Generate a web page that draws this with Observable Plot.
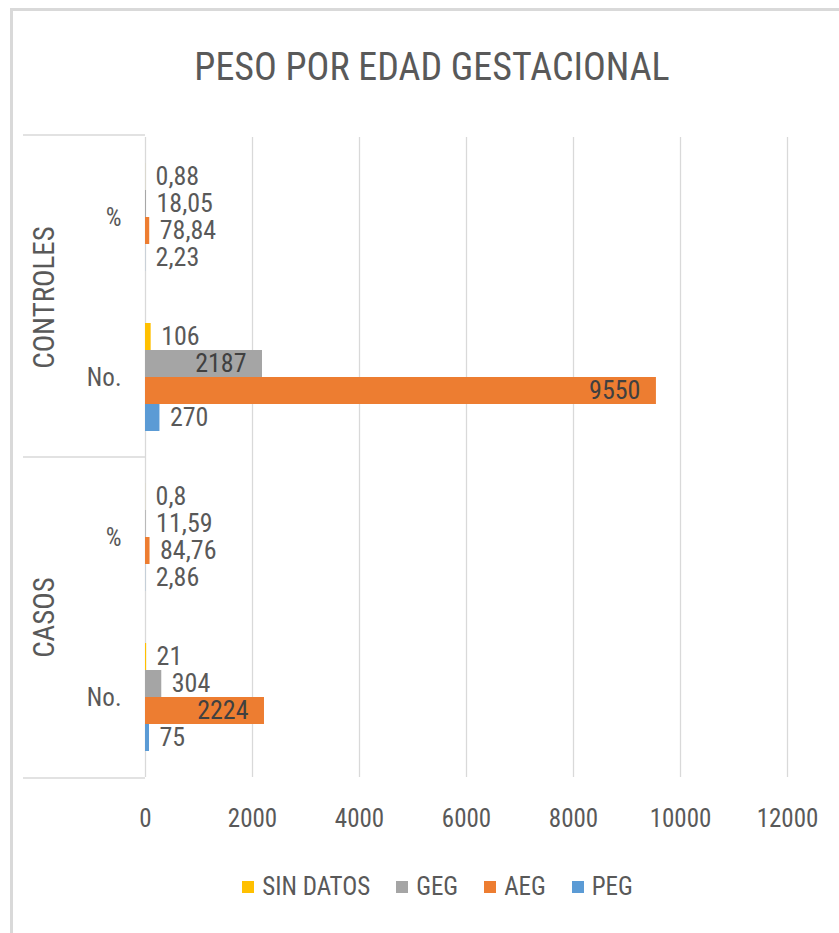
<!DOCTYPE html>
<html>
<head>
<meta charset="utf-8">
<script src="https://cdn.jsdelivr.net/npm/d3@7"></script>
<script src="https://cdn.jsdelivr.net/npm/@observablehq/plot@0.6"></script>
<style>
  html, body { margin: 0; padding: 0; background: #fff; width: 839px; height: 933px; overflow: hidden; }
  body { position: relative; color: #595959; font-family: 'Liberation Sans Narrow', 'Arial Narrow', 'Roboto Condensed', 'DejaVu Sans Condensed', Roboto, sans-serif; }
  #frame { position: absolute; left: 10px; top: 8px; width: 900px; height: 1000px; border-left: 3px solid #d9d9d9; border-top: 3px solid #d9d9d9; box-sizing: border-box; }
  #title { position: absolute; top: 48px; left: 0; width: 864px; text-align: center; font-size: 38px; line-height: 38px; white-space: nowrap; }
  #chart { position: absolute; left: 0; top: 100px; }
  #legend { position: absolute; top: 874px; left: 0; width: 875px; display: flex; justify-content: center; align-items: center; font-size: 25px; line-height: 25px; }
  .item { display: flex; align-items: center; margin: 0 13px; white-space: nowrap; }
  .sw { width: 12px; height: 12px; margin-right: 8px; }
</style>
</head>
<body>
<div id="frame"></div>
<div id="title">PESO POR EDAD GESTACIONAL</div>
<div id="chart"></div>
<div id="legend"></div>
<script>
// ---- data ----
const groups = ["CONTROLES", "CASOS"];
const subs = ["%", "No."];
const series = ["SIN DATOS", "GEG", "AEG", "PEG"];
const colors = ["#FFC000", "#A5A5A5", "#ED7D31", "#5B9BD5"];
const controlesPct = [0.88, 18.05, 78.84, 2.23];
const controlesNo = [106, 2187, 9550, 270];
const casosPct = [0.8, 11.59, 84.76, 2.86];
const casosNo = [21, 304, 2224, 75];
const xTicks = [0, 2000, 4000, 6000, 8000, 10000, 12000];

const valuesBy = {
  "CONTROLES|%": controlesPct,
  "CONTROLES|No.": controlesNo,
  "CASOS|%": casosPct,
  "CASOS|No.": casosNo
};
const cats = [];
groups.forEach(g => subs.forEach(s => cats.push(g + "|" + s)));
const rows = [];
cats.forEach(c => series.forEach((s, i) => rows.push({cat: c, sub: c.split("|")[1], series: s, value: valuesBy[c][i]})));
const fmt = d => d.sub === "%" ? String(d.value).replace(".", ",") : String(d.value);
const inside = d => d.value >= 1000;

const gray = "#d9d9d9";
const chart = Plot.plot({
  width: 839,
  height: 750,
  marginLeft: 145,
  marginRight: 52,
  marginTop: 35,
  marginBottom: 72,
  style: {fontFamily: getComputedStyle(document.body).fontFamily, fontSize: "25px", color: "#595959", background: "transparent", overflow: "visible"},
  x: {domain: [0, 12000], ticks: xTicks, tickSize: 0, tickPadding: 32, tickFormat: d => String(d), label: null},
  y: {domain: series, paddingInner: 0, paddingOuter: 0.923, axis: null},
  fy: {domain: cats, paddingInner: 0, paddingOuter: 0, axis: "left", tickSize: 0, tickPadding: 24, tickFormat: d => d.split("|")[1], label: null},
  color: {domain: series, range: colors},
  marks: [
    Plot.ruleX(xTicks, {stroke: gray, strokeWidth: 1.3}),
    Plot.barX(rows, {x: "value", y: "series", fy: "cat", fill: "series"}),
    Plot.text(rows.filter(inside), {x: "value", y: "series", fy: "cat", text: fmt, textAnchor: "end", dx: -16, fontSize: 26, fill: "#404040"}),
    Plot.text(rows.filter(d => !inside(d)), {x: "value", y: "series", fy: "cat", text: fmt, textAnchor: "start", dx: 10, fontSize: 26, fill: "#595959"}),
    Plot.text(groups, {fy: d => d + "|%", text: d => d, frameAnchor: "bottom-left", textAnchor: "middle", lineAnchor: "middle", rotate: -90, dx: -101, fontSize: 29, fill: "#595959"})
  ]
});

// category-axis separator lines (top, between groups, bottom)
(function () {
  let x0 = 145, ys = [135, 456.5, 778];
  try {
    const xs = chart.scale("x");
    const fys = chart.scale("fy");
    x0 = xs.apply(0);
    const r = fys.range;
    ys = [r[0], fys.apply("CASOS|%"), r[1]];
  } catch (e) {}
  d3.select(chart).append("g")
    .selectAll("line").data(ys).join("line")
    .attr("x1", 23).attr("x2", x0)
    .attr("y1", d => d).attr("y2", d => d)
    .attr("stroke", gray).attr("stroke-width", 1.3);
})();

document.getElementById("chart").appendChild(chart);

// legend
const legend = d3.select("#legend");
series.forEach((s, i) => {
  const it = legend.append("div").attr("class", "item");
  it.append("div").attr("class", "sw").style("background", colors[i]);
  it.append("span").text(s);
});
</script>
</body>
</html>
